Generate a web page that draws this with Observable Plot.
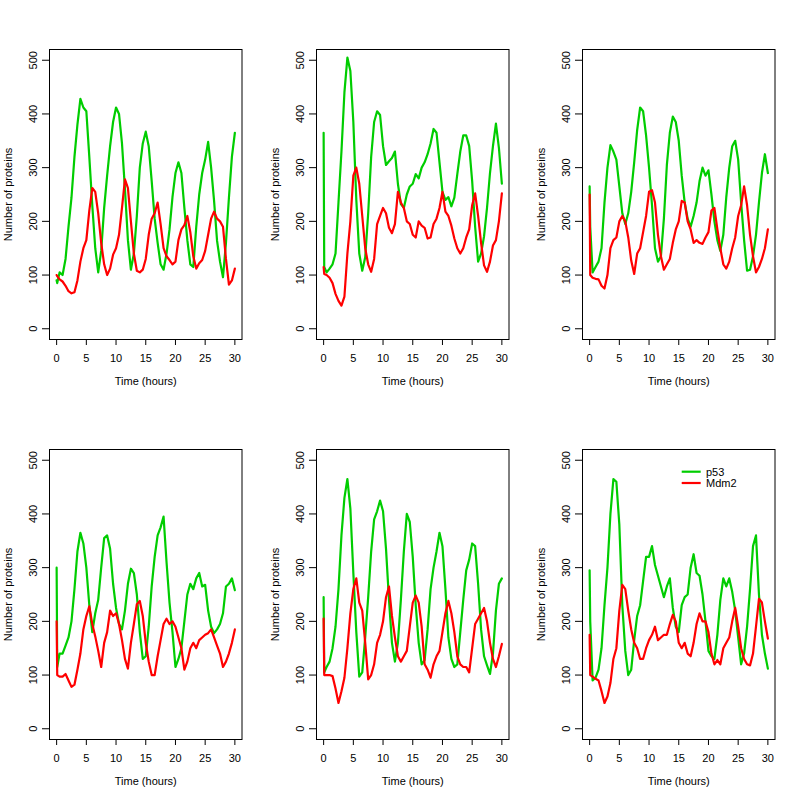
<!DOCTYPE html>
<html>
<head>
<meta charset="utf-8">
<script src="https://cdn.jsdelivr.net/npm/d3@7"></script>
<script src="https://cdn.jsdelivr.net/npm/@observablehq/plot@0.6"></script>
<style>
  html, body { margin: 0; padding: 0; background: #fff; }
  #chart { position: relative; width: 800px; height: 800px; background: #fff; overflow: hidden; }
  .panel { position: absolute; }
  #legend { position: absolute; left: 680px; top: 463px; }
</style>
</head>
<body>
<div id="chart"></div>
<script>
// Time grid (hours)
const hours = [0, 0.1,
  0.5, 1, 1.5, 2, 2.5, 3, 3.5, 4, 4.5, 5,
  5.5, 6, 6.5, 7, 7.5, 8, 8.5, 9, 9.5, 10,
  10.5, 11, 11.5, 12, 12.5, 13, 13.5, 14, 14.5, 15,
  15.5, 16, 16.5, 17, 17.5, 18, 18.5, 19, 19.5, 20,
  20.5, 21, 21.5, 22, 22.5, 23, 23.5, 24, 24.5, 25,
  25.5, 26, 26.5, 27, 27.5, 28, 28.5, 29, 29.5, 30];

// p53 trajectories (one per panel)
const p53Run1 = [90, 85,
  105, 100, 130, 190, 244, 320, 380, 428, 412, 405,
  320, 230, 150, 105, 145, 225, 285, 340, 385, 412,
  400, 345, 260, 165, 110, 140, 210, 300, 345, 367,
  340, 275, 205, 160, 120, 110, 140, 185, 245, 290,
  310, 290, 225, 165, 120, 115, 190, 250, 290, 315,
  348, 300, 238, 164, 125, 96, 160, 244, 320, 365];
const p53Run2 = [365, 115,
  105, 112, 120, 140, 235, 330, 440, 505, 480, 385,
  240, 140, 108, 133, 215, 320, 385, 405, 398, 340,
  305, 312, 318, 330, 270, 232, 225, 250, 265, 270,
  288, 280, 300, 310, 325, 345, 372, 365, 310, 255,
  240, 245, 228, 244, 288, 330, 360, 360, 340, 275,
  190, 125, 140, 172, 225, 290, 340, 382, 337, 270];
const p53Run3 = [265, 190,
  105, 115, 125, 150, 235, 300, 342, 330, 315, 265,
  215, 195, 215, 255, 310, 370, 412, 405, 360, 300,
  230, 150, 125, 135, 205, 305, 365, 395, 385, 350,
  285, 235, 205, 190, 210, 235, 275, 300, 285, 295,
  250, 200, 165, 145, 175, 245, 300, 340, 350, 315,
  235, 165, 108, 110, 135, 175, 235, 290, 325, 290];
const p53Run4 = [300, 115,
  140, 140, 155, 170, 200, 260, 330, 365, 345, 300,
  230, 180, 215, 240, 300, 355, 360, 335, 270, 225,
  195, 185, 220, 270, 298, 290, 250, 180, 130, 135,
  190, 265, 320, 360, 375, 395, 310, 235, 180, 115,
  130, 150, 200, 250, 270, 260, 280, 290, 265, 268,
  220, 190, 178, 185, 195, 215, 265, 270, 280, 258];
const p53Run5 = [245, 105,
  115, 125, 150, 190, 260, 360, 430, 465, 410, 290,
  180, 97, 105, 170, 245, 330, 390, 405, 425, 405,
  335, 240, 160, 125, 160, 240, 330, 400, 385, 320,
  230, 160, 120, 128, 185, 260, 300, 330, 365, 340,
  260, 170, 130, 115, 120, 180, 240, 295, 315, 345,
  340, 270, 185, 135, 118, 102, 140, 220, 270, 280];
const p53Run6 = [295, 200,
  90, 95, 110, 150, 230, 300, 400, 465, 460, 380,
  230, 145, 100, 110, 165, 210, 230, 275, 320, 320,
  340, 305, 285, 265, 245, 265, 280, 225, 190, 180,
  230, 245, 250, 300, 325, 290, 285, 250, 200, 145,
  135, 130, 175, 240, 280, 265, 280, 255, 220, 170,
  120, 140, 190, 260, 340, 360, 250, 175, 140, 112];

// Mdm2 trajectories (one per panel)
const mdm2Run1 = [100, 98,
  92, 88, 80, 70, 66, 68, 90, 125, 150, 165,
  220, 262, 255, 215, 160, 120, 100, 112, 138, 150,
  175, 225, 278, 262, 200, 140, 108, 105, 110, 130,
  175, 205, 215, 235, 195, 150, 135, 128, 120, 125,
  165, 185, 193, 210, 180, 135, 112, 122, 128, 145,
  175, 205, 218, 205, 200, 190, 130, 82, 90, 112];
const mdm2Run2 = [115, 102,
  100, 95, 85, 65, 52, 43, 60, 140, 200, 285,
  300, 270, 210, 150, 120, 106, 130, 195, 210, 225,
  215, 188, 178, 195, 255, 235, 225, 200, 195, 175,
  170, 200, 192, 188, 168, 170, 195, 205, 225, 255,
  218, 210, 192, 168, 150, 140, 150, 170, 185, 230,
  252, 210, 160, 118, 106, 125, 155, 165, 200, 252];
const mdm2Run3 = [250, 100,
  95, 93, 92, 80, 75, 100, 150, 165, 170, 200,
  210, 200, 170, 127, 102, 140, 150, 180, 210, 255,
  258, 235, 175, 135, 110, 120, 130, 160, 185, 200,
  238, 235, 200, 185, 160, 165, 160, 158, 170, 180,
  220, 225, 185, 150, 120, 112, 125, 150, 170, 210,
  230, 265, 230, 175, 135, 105, 115, 130, 150, 185];
const mdm2Run4 = [200, 100,
  97, 97, 102, 90, 78, 82, 110, 140, 185, 210,
  228, 195, 172, 145, 115, 160, 180, 220, 210, 215,
  195, 165, 130, 112, 160, 195, 232, 238, 210, 160,
  125, 100, 100, 135, 165, 195, 205, 195, 200, 190,
  170, 150, 110, 125, 150, 160, 150, 165, 170, 175,
  178, 185, 170, 155, 140, 115, 125, 140, 160, 185];
const mdm2Run5 = [205, 100,
  100, 100, 98, 75, 48, 70, 95, 150, 215, 260,
  280, 235, 220, 160, 92, 100, 120, 160, 175, 200,
  245, 265, 210, 170, 135, 125, 135, 145, 190, 235,
  248, 235, 190, 120, 110, 95, 120, 135, 145, 180,
  215, 238, 215, 180, 135, 120, 115, 115, 105, 150,
  195, 205, 215, 225, 200, 160, 130, 115, 135, 158];
const mdm2Run6 = [175, 100,
  97, 93, 90, 70, 48, 60, 85, 130, 150, 220,
  268, 260, 220, 185, 160, 150, 130, 130, 150, 165,
  175, 190, 165, 170, 175, 175, 195, 212, 200, 160,
  150, 160, 140, 135, 160, 195, 215, 200, 200, 180,
  140, 120, 128, 120, 150, 160, 170, 200, 225, 190,
  150, 130, 120, 118, 140, 190, 242, 235, 200, 168];

const p53Runs = [p53Run1, p53Run2, p53Run3, p53Run4, p53Run5, p53Run6];
const mdm2Runs = [mdm2Run1, mdm2Run2, mdm2Run3, mdm2Run4, mdm2Run5, mdm2Run6];

const xTicks = [0, 5, 10, 15, 20, 25, 30];
const yTicks = [0, 100, 200, 300, 400, 500];
const seriesNames = ["p53", "Mdm2"];
const seriesColors = ["#00CD00", "#FF0000"];

const FONT = "'Liberation Sans', Arial, Helvetica, sans-serif";
const chart = document.getElementById("chart");

function toRows(values) {
  return hours.map((h, i) => ({hours: h, value: values[i]}));
}

for (let i = 0; i < 6; i++) {
  const col = i % 3, row = Math.floor(i / 3);
  const plot = Plot.plot({
    width: 267,
    height: 400,
    marginLeft: 49,
    marginRight: 25.5,
    marginTop: 49,
    marginBottom: 61,
    style: {fontFamily: FONT, fontSize: "11px", color: "black", background: "white", overflow: "visible"},
    x: {domain: [-1.2, 31.2]},
    y: {domain: [-20, 520]},
    marks: [
      Plot.frame({stroke: "black", strokeWidth: 1}),
      Plot.axisX({
        ticks: xTicks, tickSize: 6, tickPadding: 9, fontSize: 11,
        label: "Time (hours)", labelAnchor: "center", labelArrow: "none", labelOffset: 45
      }),
      Plot.axisY({
        ticks: yTicks, tickSize: 7, tickPadding: 6, tickRotate: -90, fontSize: 11,
        textAnchor: "middle", lineAnchor: "bottom",
        label: "Number of proteins", labelAnchor: "center", labelArrow: "none", labelOffset: 45
      }),
      Plot.line(toRows(p53Runs[i]), {x: "hours", y: "value", stroke: seriesColors[0], strokeWidth: 2.2}),
      Plot.line(toRows(mdm2Runs[i]), {x: "hours", y: "value", stroke: seriesColors[1], strokeWidth: 2.2})
    ]
  });
  const div = document.createElement("div");
  div.className = "panel";
  div.style.left = Math.round(col * 800 / 3) + "px";
  div.style.top = (row * 400) + "px";
  div.appendChild(plot);
  chart.appendChild(div);
}

// Legend (panel 6, top right, no box)
const ns = "http://www.w3.org/2000/svg";
const leg = document.createElementNS(ns, "svg");
leg.setAttribute("id", "legend");
leg.setAttribute("width", "70");
leg.setAttribute("height", "30");
seriesNames.forEach((name, k) => {
  const y = 8.7 + k * 11.3;
  const ln = document.createElementNS(ns, "line");
  ln.setAttribute("x1", "1.7"); ln.setAttribute("x2", "20.7");
  ln.setAttribute("y1", y); ln.setAttribute("y2", y);
  ln.setAttribute("stroke", seriesColors[k]); ln.setAttribute("stroke-width", "2.2");
  leg.appendChild(ln);
  const tx = document.createElementNS(ns, "text");
  tx.setAttribute("x", "26"); tx.setAttribute("y", y + 4);
  tx.setAttribute("font-family", FONT); tx.setAttribute("font-size", "11");
  tx.setAttribute("fill", "black");
  tx.textContent = name;
  leg.appendChild(tx);
});
chart.appendChild(leg);
</script>
</body>
</html>
